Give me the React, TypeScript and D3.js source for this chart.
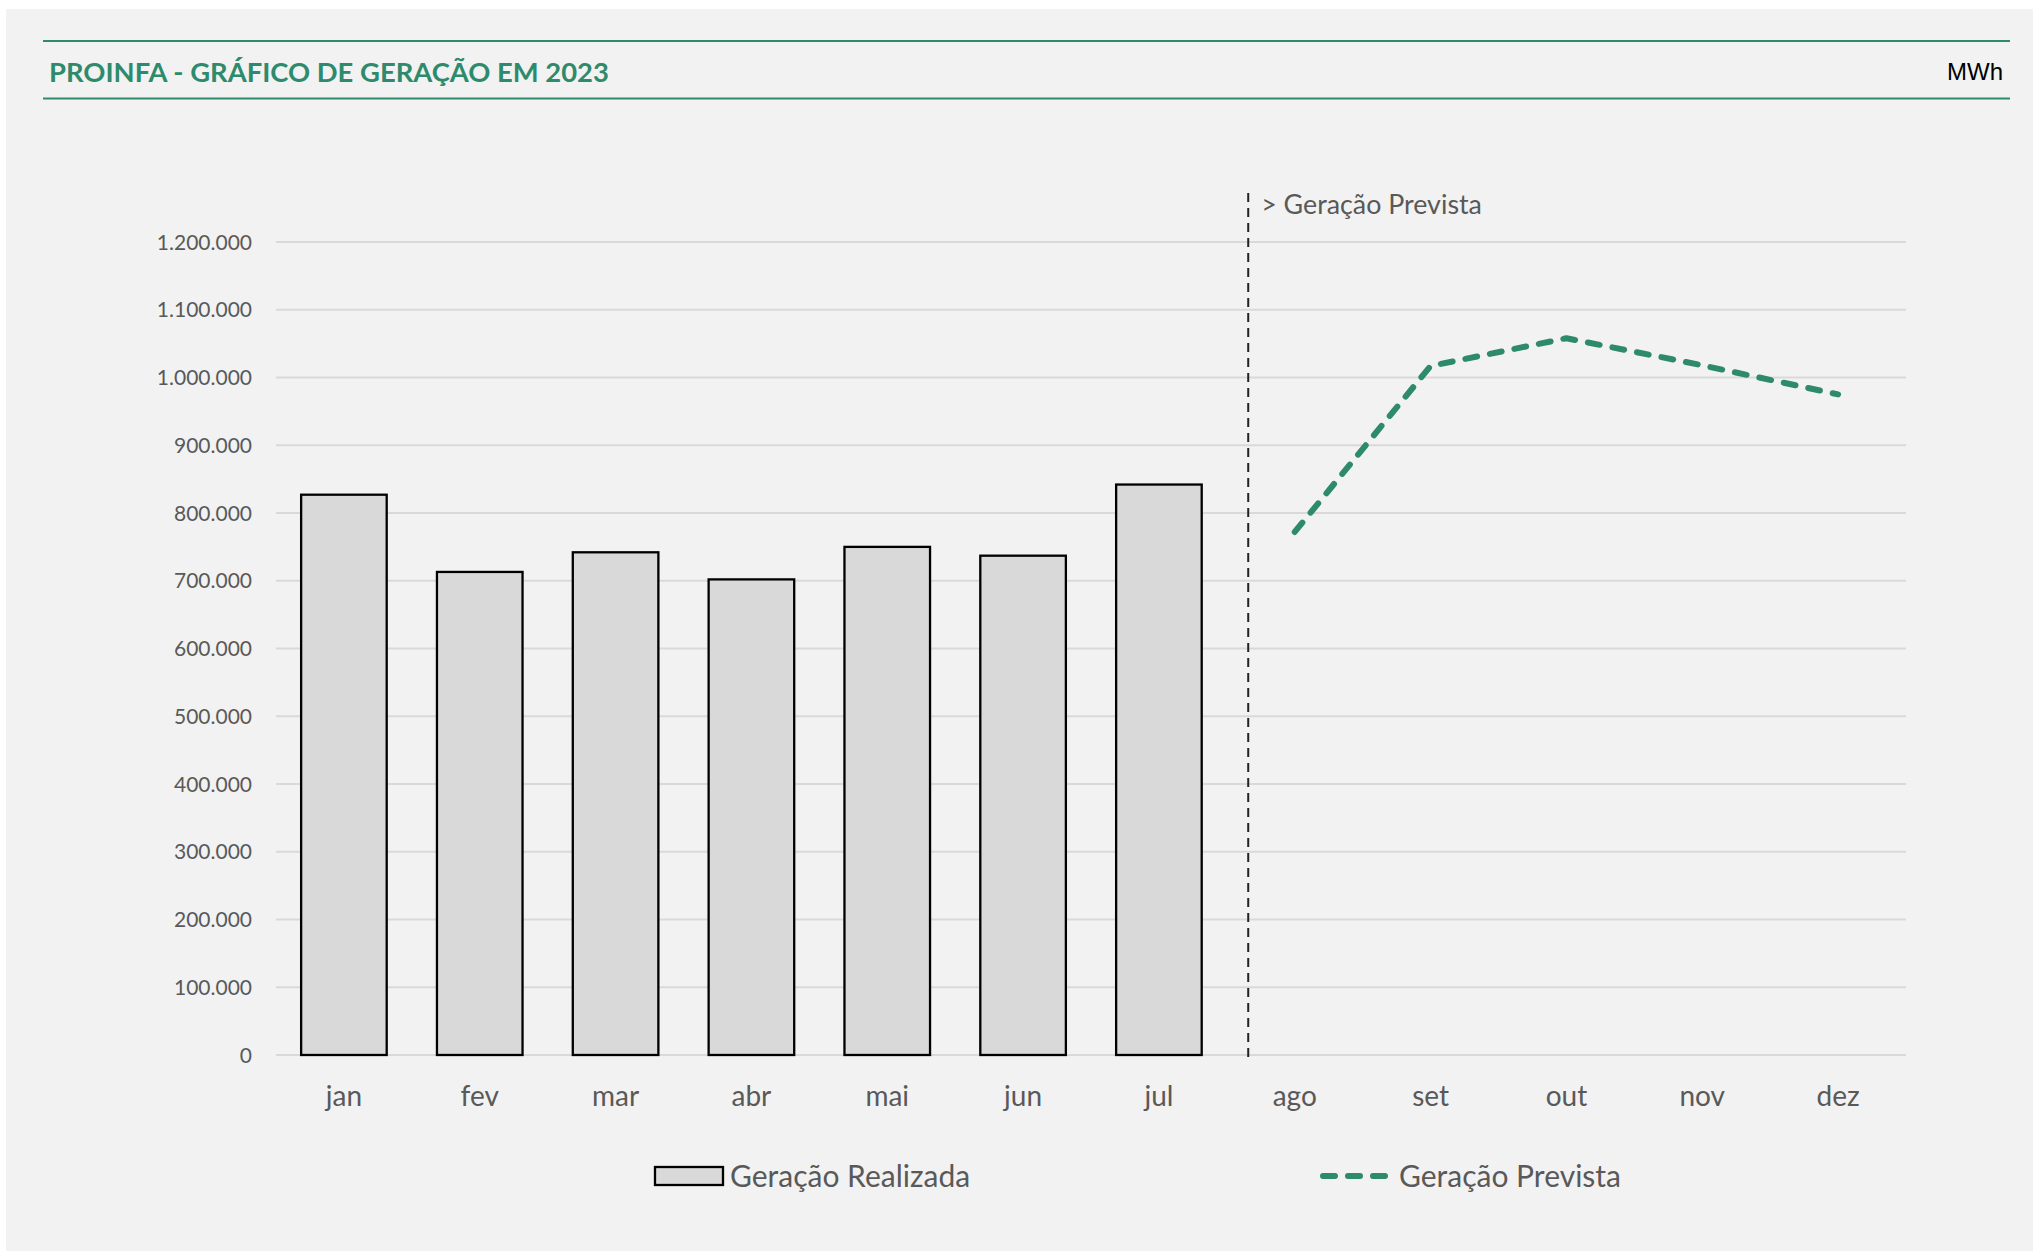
import React from "react";
import * as d3 from "d3";

const MONTHS = ["jan", "fev", "mar", "abr", "mai", "jun", "jul", "ago", "set", "out", "nov", "dez"];
const REALIZADA_MONTHS = ["jan", "fev", "mar", "abr", "mai", "jun", "jul"];
const REALIZADA = [827000, 713000, 742000, 702000, 750000, 737000, 842000];
const PREVISTA_MONTHS = ["ago", "set", "out", "nov", "dez"];
const PREVISTA = [772000, 1017000, 1058000, 1018000, 975000];
const Y_TICKS = [0, 100000, 200000, 300000, 400000, 500000, 600000, 700000, 800000, 900000, 1000000, 1100000, 1200000];

const TITLE = "PROINFA - GRÁFICO DE GERAÇÃO EM 2023";
const UNIT = "MWh";
const SEPARATOR_LABEL = "> Geração Prevista";
const LEGEND_BAR = "Geração Realizada";
const LEGEND_LINE = "Geração Prevista";

const W = 2033;
const H = 1253;
const GREEN = "#2e8a6c";
const TEXT = "#595959";
const GRID = "#d9d9d9";
const FONT = "Lato, 'Open Sans', sans-serif";

const ptBR = d3.formatLocale({ decimal: ",", thousands: ".", grouping: [3], currency: ["R$", ""] });
const fmt = ptBR.format(",.0f");

export default function App() {
  const x = d3.scaleBand<string>().domain(MONTHS).range([276, 1906]).paddingInner(0.37).paddingOuter(0.185);
  const y = d3.scaleLinear().domain([0, 1200000]).range([1055, 242]);
  const cx = (m: string) => (x(m) as number) + x.bandwidth() / 2;
  const bw = x.bandwidth();

  const line = d3
    .line<number>()
    .x((_, i) => cx(PREVISTA_MONTHS[i]))
    .y((d) => y(d));

  const sepX = ((x("jul") as number) + bw + cx("ago")) / 2;

  return (
    <svg width={W} height={H} style={{ position: "absolute", left: 0, top: 0 }} xmlns="http://www.w3.org/2000/svg">
      <rect x={0} y={0} width={W} height={H} fill="#ffffff" />
      <rect x={6} y={9} width={W - 6} height={1242} fill="#f2f2f2" />

      {/* header */}
      <line x1={43} x2={2010} y1={41} y2={41} stroke={GREEN} strokeWidth={2} />
      <line x1={43} x2={2010} y1={98.5} y2={98.5} stroke={GREEN} strokeWidth={2} />
      <text x={49} y={82} fill={GREEN} fontFamily={FONT} fontWeight={700} fontSize={27.4}>
        {TITLE}
      </text>
      <text x={2003} y={80} fill="#000" fontFamily="'Liberation Sans', Arial, sans-serif" fontSize={24} textAnchor="end">
        {UNIT}
      </text>

      {/* gridlines */}
      {Y_TICKS.map((t) => (
        <g key={t}>
          <line x1={276} x2={1906} y1={y(t)} y2={y(t)} stroke={GRID} strokeWidth={2} />
          <text x={252} y={y(t)} dy="0.36em" textAnchor="end" fill={TEXT} fontFamily={FONT} fontSize={21}>
            {fmt(t)}
          </text>
        </g>
      ))}

      {/* bars */}
      {REALIZADA.map((v, i) => (
        <rect
          key={REALIZADA_MONTHS[i]}
          x={x(REALIZADA_MONTHS[i])}
          y={y(v)}
          width={bw}
          height={y(0) - y(v)}
          fill="#d9d9d9"
          stroke="#000"
          strokeWidth={2.3}
        />
      ))}

      {/* separator */}
      <line x1={sepX} x2={sepX} y1={193} y2={1058} stroke="#222" strokeWidth={2} strokeDasharray="9 6" />
      <text x={sepX + 13} y={214} fill={TEXT} fontFamily={FONT} fontSize={26.8}>
        {SEPARATOR_LABEL}
      </text>

      {/* forecast line */}
      <path
        d={line(PREVISTA) || ""}
        fill="none"
        stroke={GREEN}
        strokeWidth={6}
        strokeDasharray="12 13"
        strokeLinecap="round"
        strokeLinejoin="round"
      />

      {/* month labels */}
      {MONTHS.map((m) => (
        <text key={m} x={cx(m)} y={1106} textAnchor="middle" fill={TEXT} fontFamily={FONT} fontSize={28}>
          {m}
        </text>
      ))}

      {/* legend */}
      <rect x={655} y={1167} width={68} height={18} fill="#d9d9d9" stroke="#000" strokeWidth={2.3} />
      <text x={730} y={1187} fill={TEXT} fontFamily={FONT} fontSize={30}>
        {LEGEND_BAR}
      </text>
      <line
        x1={1323}
        x2={1388}
        y1={1176}
        y2={1176}
        stroke={GREEN}
        strokeWidth={6}
        strokeDasharray="12 13"
        strokeLinecap="round"
      />
      <text x={1399} y={1187} fill={TEXT} fontFamily={FONT} fontSize={30}>
        {LEGEND_LINE}
      </text>
    </svg>
  );
}
